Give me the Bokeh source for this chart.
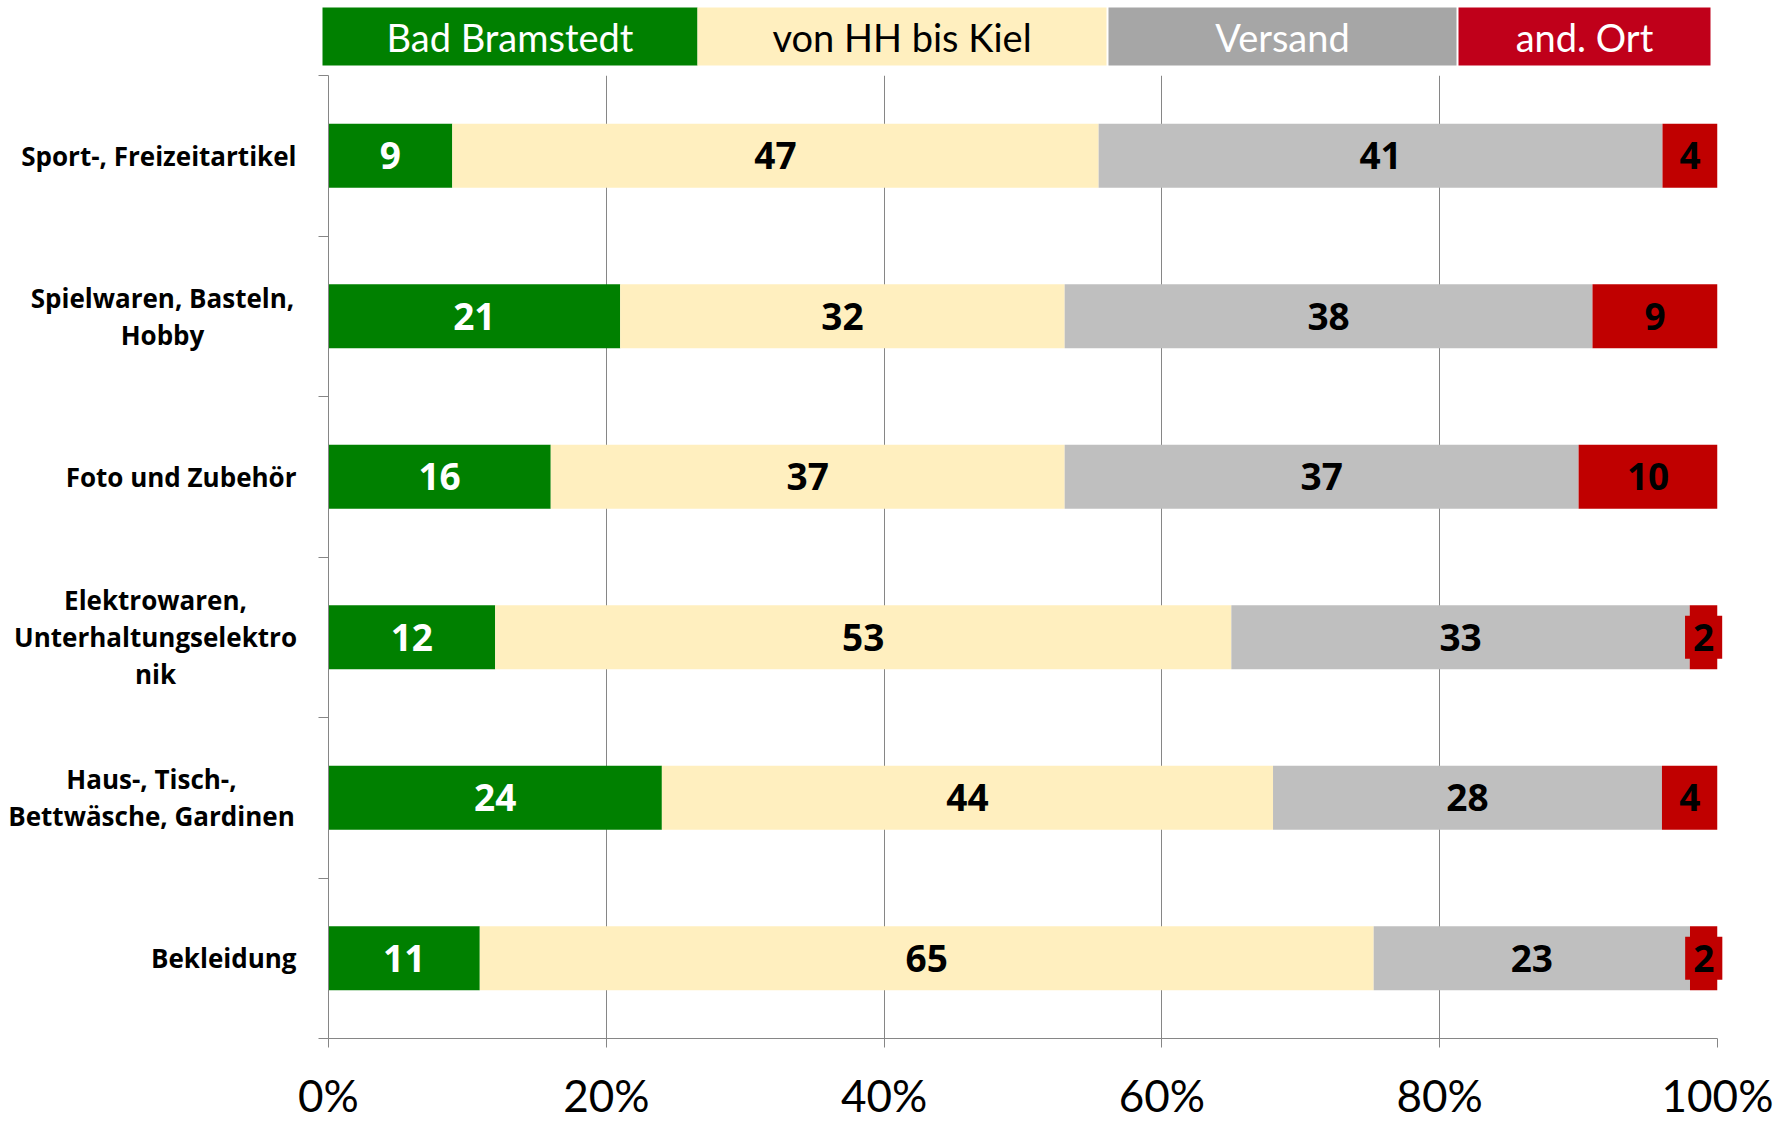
from bokeh.plotting import figure
from bokeh.models import Range1d, FixedTicker
from bokeh.layouts import column
from bokeh.embed import file_html
from bokeh.resources import INLINE
from bokeh.core.properties import value

# ---------------- data ----------------
categories = [
    "Sport-, Freizeitartikel",
    "Spielwaren, Basteln,\nHobby",
    "Foto und Zubehör",
    "Elektrowaren,\nUnterhaltungselektro\nnik",
    "Haus-, Tisch-,\nBettwäsche, Gardinen",
    "Bekleidung",
]
series_names = ["Bad Bramstedt", "von HH bis Kiel", "Versand", "and. Ort"]
bad_bramstedt = [9, 21, 16, 12, 24, 11]
hh_bis_kiel = [47, 32, 37, 53, 44, 65]
versand = [41, 38, 37, 33, 28, 23]
and_ort = [4, 9, 10, 2, 4, 2]
x_ticks = [0, 20, 40, 60, 80, 100]
x_tick_labels = ["0%", "20%", "40%", "60%", "80%", "100%"]

# ---------------- styles / layout ----------------
BAR_COLORS = ["#008000", "#FFEFBF", "#BFBFBF", "#C00000"]
LEGEND_COLORS = ["#008000", "#FFEFBF", "#A6A6A6", "#C0001A"]
VALUE_TEXT_COLORS = ["white", "black", "black", "black"]
LEGEND_TEXT_COLORS = ["white", "black", "white", "white"]
AXIS_GRAY = "#868686"

W = 1781
LEG_H = 67
FRAME_L, FRAME_R, FRAME_T, FRAME_B = 328, 64, 8, 83
FRAME_H = 965
MAIN_H = FRAME_T + FRAME_H + FRAME_B
BAR_H = 0.4
CAT_FONT = "Open Sans"
TICK_FONT = "Lato"

n = len(categories)
series = [bad_bramstedt, hh_bis_kiel, versand, and_ort]
totals = [sum(s[i] for s in series) for i in range(n)]
ys = [i + 0.5 for i in range(n)]

p = figure(width=W, height=MAIN_H, x_range=Range1d(0, 100), y_range=Range1d(n, 0),
           output_backend="svg", toolbar_location=None, title=None,
           min_border_left=FRAME_L, min_border_right=FRAME_R,
           min_border_top=FRAME_T, min_border_bottom=FRAME_B)
p.outline_line_color = None
p.background_fill_color = "white"

p.ygrid.visible = False
p.xgrid.ticker = FixedTicker(ticks=x_ticks)
p.xgrid.grid_line_color = AXIS_GRAY
p.xgrid.grid_line_width = 1

# x axis
p.xaxis.ticker = FixedTicker(ticks=x_ticks)
p.xaxis.major_label_overrides = dict(zip(x_ticks, x_tick_labels))
p.xaxis.axis_line_color = AXIS_GRAY
p.xaxis.major_tick_line_color = AXIS_GRAY
p.xaxis.major_tick_out = 9
p.xaxis.major_tick_in = 0
p.xaxis.minor_tick_line_color = None
p.xaxis.major_label_standoff = 21
p.xaxis.major_label_text_font = TICK_FONT
p.xaxis.major_label_text_font_size = "44px"
p.xaxis.major_label_text_color = "black"

# y axis (ticks at category boundaries, no tick labels)
y_bounds = list(range(n + 1))
p.yaxis.ticker = FixedTicker(ticks=y_bounds)
p.yaxis.major_label_text_color = None
p.yaxis.major_label_text_font_size = "10px"
p.yaxis.axis_line_color = AXIS_GRAY
p.yaxis.major_tick_line_color = AXIS_GRAY
p.yaxis.major_tick_out = 10
p.yaxis.major_tick_in = 0
p.yaxis.minor_tick_line_color = None

# stacked bars (100%)
left = [0.0] * n
for k, s in enumerate(series):
    share = [s[i] / totals[i] * 100 for i in range(n)]
    right = [left[i] + share[i] for i in range(n)]
    centers = [(left[i] + right[i]) / 2 for i in range(n)]
    p.hbar(y=ys, left=left, right=right, height=BAR_H, fill_color=BAR_COLORS[k], line_color=None)
    kw = {}
    if k == 3:
        kw = dict(background_fill_color=BAR_COLORS[k], padding=8)
    r = p.text(x=centers, y=ys, text=[str(v) for v in s], text_font=value(CAT_FONT),
               text_font_style="bold", text_font_size="37px", text_align="center",
               text_baseline="middle", text_color=VALUE_TEXT_COLORS[k], **kw)
    r.level = "overlay"
    left = right

# category labels, placed left of the axis (pixel offsets from x = 0)
CAT_RIGHT = -32
CAT_CENTER = {1: -166, 3: -173, 4: -177}
cat_offsets = [CAT_CENTER.get(i, CAT_RIGHT) for i in range(n)]
cat_align = ["center" if "\n" in c else "right" for c in categories]
rc = p.text(x=[0] * n, y=ys, text=categories, x_offset=cat_offsets, text_align=cat_align,
            text_baseline="middle", text_font=value(CAT_FONT), text_font_style="bold",
            text_font_size="26px", text_line_height=1.03, text_color="black")
rc.level = "overlay"

# ---------------- legend strip ----------------
# the column layout aligns this strip's frame with the main frame, so its x range is
# expressed in page pixels of that frame (FRAME_L .. W - FRAME_R)
lg = figure(width=W, height=LEG_H, x_range=Range1d(FRAME_L, W - FRAME_R), y_range=Range1d(LEG_H, 0),
            output_backend="svg", toolbar_location=None, title=None,
            min_border_left=FRAME_L, min_border_right=FRAME_R, min_border_top=0, min_border_bottom=0,
            x_axis_location=None, y_axis_location=None)
lg.outline_line_color = None
lg.grid.visible = False
LEG_LEFT = [322, 697, 1108, 1458]
LEG_RIGHT = [697, 1106, 1456, 1710]
LEG_TOP, LEG_BOTTOM = 7, 65
rq = lg.quad(left=LEG_LEFT, right=LEG_RIGHT, top=[LEG_TOP] * 4, bottom=[LEG_BOTTOM] * 4,
             fill_color=LEGEND_COLORS, line_color=None)
rq.level = "overlay"
rt = lg.text(x=[(a + b) / 2 for a, b in zip(LEG_LEFT, LEG_RIGHT)], y=[(LEG_TOP + LEG_BOTTOM) / 2] * 4,
             text=series_names, text_font=value(TICK_FONT), text_font_size="38px",
             text_align="center", text_baseline="middle", text_color=LEGEND_TEXT_COLORS)
rt.level = "overlay"

layout = column(lg, p)
open("out.html", "w").write(file_html(layout, INLINE))
